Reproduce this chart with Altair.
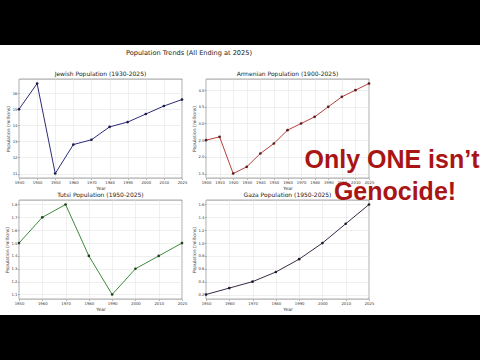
import altair as alt
import pandas as pd

FONT = "DejaVu Sans"

# ---- data ----
main_title = "Population Trends (All Ending at 2025)"

jew_title = "Jewish Population (1930-2025)"
jew_years = [1930, 1940, 1950, 1960, 1970, 1980, 1990, 2000, 2010, 2025]
jew_vals = [15.0, 16.6, 11.0, 12.8, 13.1, 13.9, 14.2, 14.7, 15.2, 15.6]
jew_ticks = [11, 12, 13, 14, 15, 16]

arm_title = "Armenian Population (1900-2025)"
arm_years = [1900, 1910, 1920, 1930, 1940, 1950, 1960, 1970, 1980, 1990, 2000, 2010, 2025]
arm_vals = [2.5, 2.6, 1.5, 1.7, 2.1, 2.4, 2.8, 3.0, 3.2, 3.5, 3.8, 4.0, 4.2]
arm_ticks = [1.5, 2.0, 2.5, 3.0, 3.5, 4.0]

tut_title = "Tutsi Population (1950-2025)"
tut_years = [1950, 1960, 1970, 1980, 1990, 2000, 2010, 2025]
tut_vals = [1.5, 1.7, 1.8, 1.4, 1.1, 1.3, 1.4, 1.5]
tut_ticks = [1.1, 1.2, 1.3, 1.4, 1.5, 1.6, 1.7, 1.8]

gaza_title = "Gaza Population (1950-2025)"
gaza_years = [1950, 1960, 1970, 1980, 1990, 2000, 2010, 2025]
gaza_vals = [0.2, 0.3, 0.4, 0.55, 0.75, 1.0, 1.3, 1.6]
gaza_ticks = [0.2, 0.4, 0.6, 0.8, 1.0, 1.2, 1.4, 1.6]

overlay_lines = ["Only ONE isn\u2019t", "Genocide!"]

x_title = "Year"
y_title = "Population (millions)"

PW, PH = 163, 99
one = pd.DataFrame({"k": [0]})


def panel(years, vals, title, color, mcolor, domain, ticks, fmt):
    df = pd.DataFrame({"Year": years, "Pop": vals})
    x = alt.X("Year:O", title=x_title,
              scale=alt.Scale(type="point", padding=0),
              axis=alt.Axis(labelAngle=0, labelOverlap=False, grid=True))
    y = alt.Y("Pop:Q", title=y_title,
              scale=alt.Scale(domain=domain, nice=False, zero=False),
              axis=alt.Axis(values=ticks, format=fmt, grid=True))
    base = alt.Chart(df)
    line = base.mark_line(color=color, strokeWidth=1).encode(x=x, y=y)
    pts = base.mark_circle(color=mcolor, size=7, opacity=1).encode(x=x, y=y)
    return alt.layer(line, pts).properties(
        width=PW, height=PH,
        title=alt.TitleParams(title, fontSize=6, font=FONT, fontWeight="normal",
                              color="#222", offset=2, anchor="middle"))


jew = panel(jew_years, jew_vals, jew_title, "#2c2c7a", "#1a1a4a",
            [10.72, 16.88], jew_ticks, "d")
arm = panel(arm_years, arm_vals, arm_title, "#b5403a", "#5a1a1a",
            [1.365, 4.335], arm_ticks, ".1f")
tut = panel(tut_years, tut_vals, tut_title, "#3d8b3d", "#1f3f1f",
            [1.065, 1.835], tut_ticks, ".1f")
gaza = panel(gaza_years, gaza_vals, gaza_title, "#3a2a45", "#201828",
             [0.13, 1.67], gaza_ticks, ".1f")

topbar = alt.layer(
    alt.Chart(one).mark_rect(color="black").encode(
        x=alt.value(-19), x2=alt.value(461), y=alt.value(0), y2=alt.value(45)),
    alt.Chart(one).mark_text(text=main_title, font=FONT, fontSize=6.6,
                             color="#222", align="center", baseline="middle").encode(
        x=alt.value(170), y=alt.value(53)),
).properties(width=PW, height=57, view=alt.ViewBackground(stroke=None))

filler = alt.Chart(one).mark_rect(opacity=0).encode(
    x=alt.value(10), x2=alt.value(20), y=alt.value(10), y2=alt.value(20)
).properties(width=PW, height=57, view=alt.ViewBackground(stroke=None))

# overlay caption, drawn last (bottom cell origin is at screen x=19, y=321)
RED = "#a91414"
overlay = []
for txt, xx, yy in [(overlay_lines[0], 373, -161), (overlay_lines[1], 376, -129)]:
    overlay.append(
        alt.Chart(one).mark_text(text=txt, font="Liberation Sans", fontSize=25,
                                 fontWeight="bold", color=RED,
                                 align="center", baseline="middle")
        .encode(x=alt.value(xx), y=alt.value(yy)))

bottombar = alt.layer(
    alt.Chart(one).mark_rect(color="black").encode(
        x=alt.value(-19), x2=alt.value(461), y=alt.value(-6), y2=alt.value(39)),
    *overlay,
).properties(width=PW, height=39, view=alt.ViewBackground(stroke=None))

chart = alt.concat(
    topbar, filler, jew, arm, tut, gaza, bottombar,
    columns=2, spacing=alt.RowColnumber(row=22, column=24), bounds="flush"
).properties(
    padding=0, background="white"
).configure_axis(
    labelFont=FONT, titleFont=FONT, labelFontSize=3.8, titleFontSize=4.5,
    labelColor="#333", titleColor="#333", titleFontWeight="normal",
    tickSize=1.5, tickColor="#666", tickWidth=0.5, labelPadding=0.5, titlePadding=1.5,
    gridColor="#e4e4e4", gridWidth=0.6, domain=False,
).configure_view(stroke="#555", strokeWidth=0.6)

chart.save("out.html", embed_options={"renderer": "svg", "actions": False})
